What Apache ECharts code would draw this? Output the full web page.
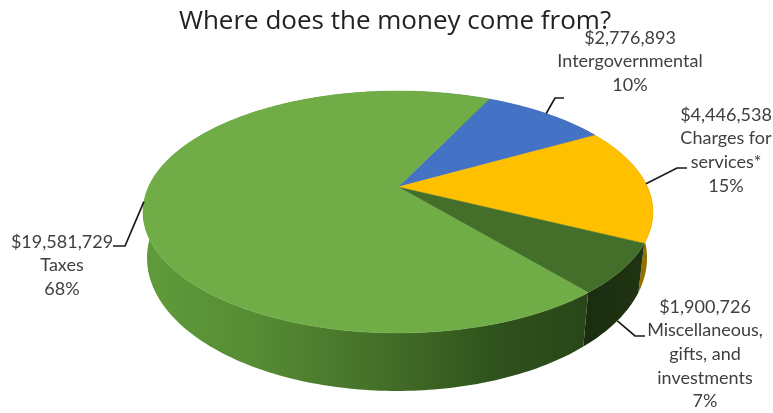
<!DOCTYPE html>
<html><head><meta charset="utf-8">
<style>html,body{margin:0;padding:0;background:#fff}#c{width:773px;height:413px;filter:blur(0.5px)}</style>
<script src="https://cdn.jsdelivr.net/npm/echarts@6/dist/echarts.min.js"></script></head>
<body><div id="c"></div>
<script>
const categories = ['Intergovernmental', 'Charges for services*', 'Miscellaneous, gifts, and investments', 'Taxes'];
const amounts = [2776893, 4446538, 1900726, 19581729];
const amountLabels = ['$2,776,893', '$4,446,538', '$1,900,726', '$19,581,729'];
const percentLabels = ['10%', '15%', '7%', '68%'];
const wrappedNames = [['Intergovernmental'], ['Charges for', 'services*'], ['Miscellaneous,', 'gifts, and', 'investments'], ['Taxes']];
const title = 'Where does the money come from?';

const topColors = ['#4472c4', '#ffc000', '#436f2b', '#70ad47'];
const sideStops = [
  [[0, '#2c5090'], [1, '#2c5090']],
  [[0, '#b78a00'], [1, '#8f6c00']],
  [[0, '#1a2c0f'], [1, '#1f3412']],
  [[0, '#609b3b'], [0.25, '#568c34'], [0.55, '#436e28'], [0.8, '#30521c'], [1, '#294718']]
];
const gradientSpan = [[500,600],[600,650],[580,640],[145,583]];
const labelCentres = [[630, 38], [726, 115], [705, 307], [62, 242]];
const leaderBends = [[[555,98],[564,98]], [[677,168],[687,168]], [[635,336],[645,336]], [[125,246],[113,246]]];
const leaderOnBase = [false, false, true, false];

const START = -64.3, K = 0.2066;
const TOP = {x: 398, y: 187, r: 249.5, q: 115.8};
const BASE = {x: 397, y: 230.5, r: 244.6, q: 127.3};
const LINE_H = 23.6;
const FONT = 'Lato, "Open Sans", sans-serif';

const total = amounts.reduce((a, b) => a + b, 0);
const bounds = [START];
amounts.forEach(v => bounds.push(bounds[bounds.length - 1] + v / total * 360));

function proj(p, deg) {
  const t = deg * Math.PI / 180, s = Math.sin(t), c = Math.cos(t), d = 1 - K * s;
  return [p.x + p.r * c / d, p.y + p.q * s / d];
}
function arc(p, a, b) {
  const pts = [], n = Math.max(2, Math.ceil(Math.abs(b - a)));
  for (let i = 0; i <= n; i++) pts.push(proj(p, a + (b - a) * i / n));
  return pts;
}
const chart = echarts.init(document.getElementById('c'), null, {renderer: 'canvas'});
const data = amounts.map((v, i) => ({value: v, name: categories[i]}));

chart.setOption({
  animation: false,
  title: {text: title, left: 390, top: 4, textAlign: 'center',
    textStyle: {fontFamily: '"Open Sans", sans-serif', fontSize: 26, fontWeight: 'normal', color: '#222222'}},
  series: [
    {type: 'custom', coordinateSystem: 'none', z: 1, silent: true, data,
     renderItem(params) {
       const i = params.dataIndex, a = bounds[i], b = bounds[i + 1];
       const pts = arc(TOP, a, b).concat(arc(BASE, a, b).reverse());
       const fill = new echarts.graphic.LinearGradient(gradientSpan[i][0], 0, gradientSpan[i][1], 0,
         sideStops[i].map(s => ({offset: s[0], color: s[1]})), true);
       return {type: 'polygon', shape: {points: pts}, style: {fill}};
     }},
    {type: 'custom', coordinateSystem: 'none', z: 2, silent: true, data,
     renderItem(params) {
       const i = params.dataIndex;
       const pts = [[TOP.x, TOP.y]].concat(arc(TOP, bounds[i], bounds[i + 1]));
       return {type: 'polygon', shape: {points: pts}, style: {fill: topColors[i], stroke: topColors[i], lineWidth: 0.5}};
     }},
    {type: 'custom', coordinateSystem: 'none', z: 3, silent: true, data,
     renderItem(params) {
       const i = params.dataIndex, mid = (bounds[i] + bounds[i + 1]) / 2;
       const anchor = proj(leaderOnBase[i] ? BASE : TOP, mid);
       const lines = [amountLabels[i]].concat(wrappedNames[i], [percentLabels[i]]);
       const children = [{type: 'polyline', shape: {points: [anchor].concat(leaderBends[i])},
         style: {fill: 'none', stroke: '#1a1a1a', lineWidth: 1.7}}];
       lines.forEach((t, j) => children.push({type: 'text', style: {
         text: t, x: labelCentres[i][0], y: labelCentres[i][1] + j * LINE_H,
         align: 'center', verticalAlign: 'middle', fill: '#404040', font: '18px ' + FONT}}));
       return {type: 'group', children};
     }}
  ]
});
</script></body></html>
